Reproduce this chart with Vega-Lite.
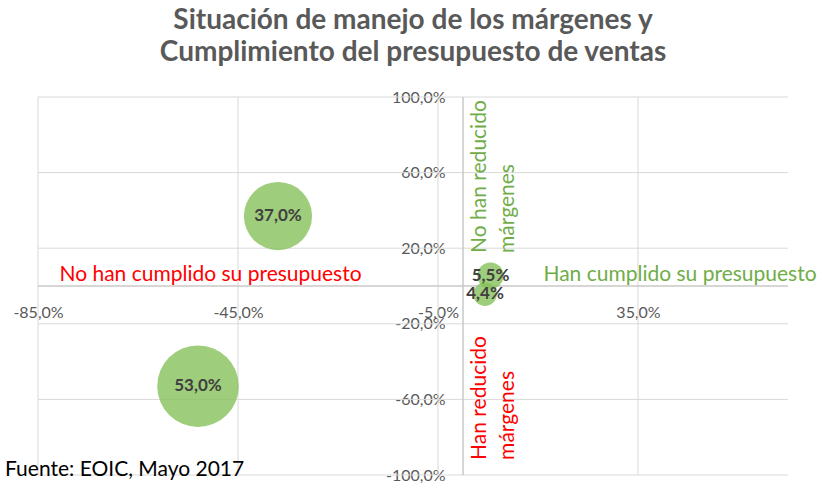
{
  "$schema": "https://vega.github.io/schema/vega-lite/v6.json",
  "width": 750,
  "height": 378,
  "autosize": "none",
  "padding": {"left": 38, "top": 97, "right": 33, "bottom": 12},
  "background": "white",
  "config": {"view": {"stroke": null}, "font": "Lato"},
  "title": {
    "text": ["Situación de manejo de los márgenes y", "Cumplimiento del presupuesto de ventas"],
    "font": "Lato", "fontSize": 28, "fontWeight": "bold", "color": "#595959",
    "anchor": "middle", "lineHeight": 32, "offset": 22
  },
  "datasets": {
    "bubbles": [
      {"x": -53, "y": -53, "size": 53, "label": "53,0%"},
      {"x": -37, "y": 37, "size": 37, "label": "37,0%"},
      {"x": 5.5, "y": 5.5, "size": 5.5, "label": "5,5%"},
      {"x": 4.4, "y": -4.4, "size": 4.4, "label": "4,4%"}
    ],
    "gridx": [{"x": -85}, {"x": -45}, {"x": -5}, {"x": 35}],
    "gridy": [{"y": 100}, {"y": 60}, {"y": 20}, {"y": -20}, {"y": -60}, {"y": -100}],
    "zerox": [{"x": 0}],
    "zeroy": [{"y": 0}],
    "notesH": [
      {"x": -50.5, "y": 6, "text": "No han cumplido su presupuesto", "grupo": "no"},
      {"x": 43.4, "y": 6, "text": "Han cumplido su presupuesto", "grupo": "si"}
    ],
    "notesV": [
      {"x": 3.4, "y": 17.5, "text": "No han reducido", "grupo": "si"},
      {"x": 9, "y": 17.5, "text": "márgenes", "grupo": "si"},
      {"x": 3.4, "y": -92, "text": "Han reducido", "grupo": "no"},
      {"x": 9, "y": -92, "text": "márgenes", "grupo": "no"}
    ],
    "fuente": [{"x": -91.6, "y": -97.4, "text": "Fuente: EOIC, Mayo 2017"}]
  },
  "layer": [
    {
      "data": {"name": "gridx"},
      "mark": {"type": "rule", "color": "#d9d9d9", "strokeWidth": 1},
      "encoding": {
        "x": {
          "field": "x", "type": "quantitative",
          "scale": {"domain": [-85, 65], "nice": false, "zero": false},
          "axis": {
            "title": null, "values": [-85, -45, -5, 35], "grid": false, "domain": false, "ticks": false,
            "offset": -189, "labelPadding": 18, "labelFlush": false, "labelOverlap": false,
            "labelFont": "Lato", "labelFontSize": 16, "labelColor": "#595959",
            "labelExpr": "replace((datum.value < 0 ? '-' : '') + format(abs(datum.value), '.1f'), '.', ',') + '%'"
          }
        }
      }
    },
    {
      "data": {"name": "gridy"},
      "mark": {"type": "rule", "color": "#d9d9d9", "strokeWidth": 1},
      "encoding": {
        "y": {
          "field": "y", "type": "quantitative",
          "scale": {"domain": [-100, 100], "nice": false, "zero": false},
          "axis": {
            "title": null, "values": [-100, -60, -20, 20, 60, 100], "grid": false, "domain": false, "ticks": false,
            "offset": -425, "labelPadding": 18, "labelFlush": false, "labelOverlap": false,
            "labelFont": "Lato", "labelFontSize": 16, "labelColor": "#595959",
            "labelExpr": "replace((datum.value < 0 ? '-' : '') + format(abs(datum.value), '.1f'), '.', ',') + '%'"
          }
        }
      }
    },
    {
      "data": {"name": "zerox"},
      "mark": {"type": "rule", "color": "#c8c8c8", "strokeWidth": 1.5},
      "encoding": {"x": {"field": "x", "type": "quantitative"}}
    },
    {
      "data": {"name": "zeroy"},
      "mark": {"type": "rule", "color": "#c8c8c8", "strokeWidth": 1.5},
      "encoding": {"y": {"field": "y", "type": "quantitative"}}
    },
    {
      "data": {"name": "bubbles"},
      "mark": {"type": "circle", "color": "#86c05a", "opacity": 0.8},
      "encoding": {
        "x": {"field": "x", "type": "quantitative"},
        "y": {"field": "y", "type": "quantitative"},
        "size": {"field": "size", "type": "quantitative", "scale": {"domain": [0, 53], "range": [0, 6650]}, "legend": null}
      }
    },
    {
      "data": {"name": "bubbles"},
      "mark": {"type": "text", "font": "Lato", "fontSize": 17, "fontWeight": "bold", "color": "#404040", "baseline": "middle", "align": "center"},
      "encoding": {
        "x": {"field": "x", "type": "quantitative"},
        "y": {"field": "y", "type": "quantitative"},
        "text": {"field": "label", "type": "nominal"}
      }
    },
    {
      "data": {"name": "notesH"},
      "mark": {"type": "text", "font": "Lato", "fontSize": 21, "baseline": "middle", "align": "center"},
      "encoding": {
        "x": {"field": "x", "type": "quantitative"},
        "y": {"field": "y", "type": "quantitative"},
        "text": {"field": "text", "type": "nominal"},
        "color": {"field": "grupo", "type": "nominal", "scale": {"domain": ["no", "si"], "range": ["#FF0000", "#70AD47"]}, "legend": null}
      }
    },
    {
      "data": {"name": "notesV"},
      "mark": {"type": "text", "font": "Lato", "fontSize": 21, "baseline": "middle", "align": "left", "angle": 270},
      "encoding": {
        "x": {"field": "x", "type": "quantitative"},
        "y": {"field": "y", "type": "quantitative"},
        "text": {"field": "text", "type": "nominal"},
        "color": {"field": "grupo", "type": "nominal", "legend": null}
      }
    },
    {
      "data": {"name": "fuente"},
      "mark": {"type": "text", "font": "Lato", "fontSize": 21, "baseline": "middle", "align": "left", "color": "#000000"},
      "encoding": {
        "x": {"field": "x", "type": "quantitative"},
        "y": {"field": "y", "type": "quantitative"},
        "text": {"field": "text", "type": "nominal"}
      }
    }
  ]
}
